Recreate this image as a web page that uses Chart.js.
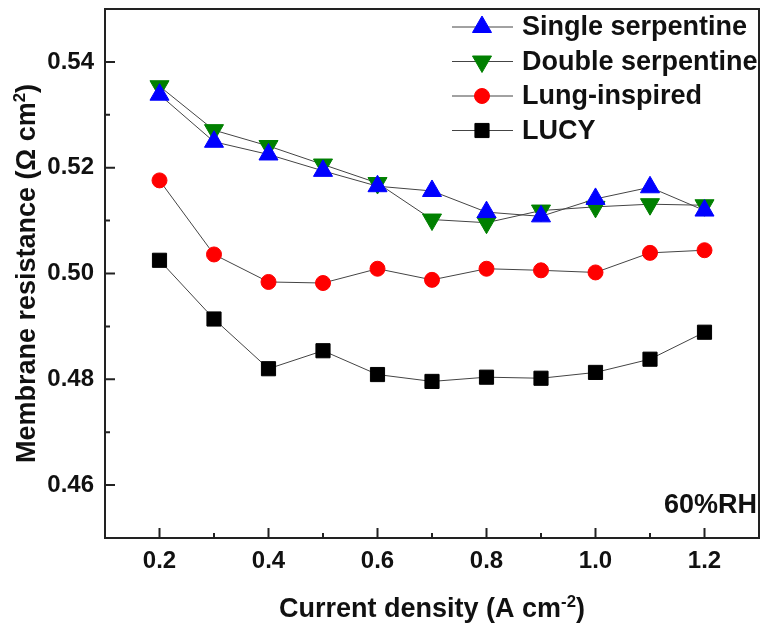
<!DOCTYPE html>
<html>
<head>
<meta charset="utf-8">
<script src="https://cdn.jsdelivr.net/npm/chart.js@4.4.0/dist/chart.umd.min.js"></script>
<style>
  html, body { margin: 0; padding: 0; background: #fff; overflow: hidden; }
  #wrap { position: relative; width: 762px; height: 625px; }
</style>
</head>
<body>
<div id="wrap"><canvas id="myChart"></canvas></div>
<script>
const currentDensity = [0.2, 0.3, 0.4, 0.5, 0.6, 0.7, 0.8, 0.9, 1.0, 1.1, 1.2];
const singleSerpentine = [0.5338, 0.5249, 0.5225, 0.5194, 0.5165, 0.5156, 0.5116, 0.5108, 0.5141, 0.5163, 0.5119];
const doubleSerpentine = [0.5354, 0.5271, 0.5241, 0.5206, 0.5171, 0.5102, 0.5096, 0.5119, 0.5126, 0.5131, 0.5129];
const lungInspired = [0.5176, 0.5036, 0.4984, 0.4982, 0.5009, 0.4988, 0.5009, 0.5006, 0.5002, 0.5039, 0.5044];
const lucy = [0.5025, 0.4914, 0.4820, 0.4854, 0.4809, 0.4796, 0.4804, 0.4802, 0.4813, 0.4838, 0.4889];

const xTicks = [0.2, 0.4, 0.6, 0.8, 1.0, 1.2];
const xMinorTicks = [0.3, 0.5, 0.7, 0.9, 1.1];
const yTicks = [0.46, 0.48, 0.50, 0.52, 0.54];
const yMinorTicks = [0.47, 0.49, 0.51, 0.53];

const FONT = "'Liberation Sans', Arial, sans-serif";
const LINE = '#444';

function pts(values) {
  return values.map((v, i) => ({ x: currentDensity[i], y: v }));
}

function series(label, values, color, style, radius, rotation) {
  return {
    label: label,
    data: pts(values),
    borderColor: LINE,
    borderWidth: 1,
    pointStyle: style,
    pointRadius: radius,
    pointRotation: rotation,
    pointBackgroundColor: color,
    pointBorderColor: color,
    pointBorderWidth: 1,
    tension: 0
  };
}

// draws text pieces, some of them superscript
function drawRich(ctx, pieces, size) {
  let total = 0;
  pieces.forEach(p => {
    ctx.font = 'bold ' + (p.sup ? size * 0.62 : size) + 'px ' + FONT;
    p.w = ctx.measureText(p.t).width;
    total += p.w;
  });
  let x = -total / 2;
  pieces.forEach(p => {
    ctx.font = 'bold ' + (p.sup ? size * 0.62 : size) + 'px ' + FONT;
    ctx.fillText(p.t, x, p.sup ? -size * 0.38 : 0);
    x += p.w;
  });
}

function noPad(s) {
  s.paddingTop = 0;
  s.paddingBottom = 0;
  s.paddingLeft = 0;
  s.paddingRight = 0;
}

const decor = {
  id: 'decor',
  afterDraw(chart) {
    const ctx = chart.ctx;
    const a = chart.chartArea;
    const xs = chart.scales.x, ys = chart.scales.y;
    ctx.save();
    ctx.strokeStyle = '#222';
    ctx.lineWidth = 2;
    ctx.strokeRect(a.left, a.top, a.right - a.left, a.bottom - a.top);

    ctx.beginPath();
    xTicks.forEach(v => { const p = xs.getPixelForValue(v); ctx.moveTo(p, a.bottom); ctx.lineTo(p, a.bottom - 10); });
    xMinorTicks.forEach(v => { const p = xs.getPixelForValue(v); ctx.moveTo(p, a.bottom); ctx.lineTo(p, a.bottom - 5); });
    yTicks.forEach(v => { const p = ys.getPixelForValue(v); ctx.moveTo(a.left, p); ctx.lineTo(a.left + 10, p); });
    yMinorTicks.forEach(v => { const p = ys.getPixelForValue(v); ctx.moveTo(a.left, p); ctx.lineTo(a.left + 5, p); });
    ctx.stroke();

    // legend
    ctx.textBaseline = 'middle';
    ctx.textAlign = 'left';
    chart.data.datasets.forEach((ds, i) => {
      const y = 27 + i * 34.5;
      ctx.strokeStyle = LINE;
      ctx.lineWidth = 1;
      ctx.beginPath();
      ctx.moveTo(452, y);
      ctx.lineTo(513, y);
      ctx.stroke();
      ctx.fillStyle = ds.pointBackgroundColor;
      ctx.strokeStyle = ds.pointBorderColor;
      Chart.helpers.drawPoint(ctx, { pointStyle: ds.pointStyle, rotation: ds.pointRotation, radius: ds.pointRadius, borderWidth: 1 }, 482, y);
      ctx.fillStyle = '#111';
      ctx.font = 'bold 27px ' + FONT;
      ctx.fillText(ds.label, 522, y + 1);
    });

    // annotation
    ctx.textAlign = 'right';
    ctx.textBaseline = 'alphabetic';
    ctx.font = 'bold 27px ' + FONT;
    ctx.fillText('60%RH', 757, 513);

    // axis titles
    ctx.textAlign = 'left';
    ctx.save();
    ctx.translate((a.left + a.right) / 2, 617);
    drawRich(ctx, [{ t: 'Current density (A cm' }, { t: '-2', sup: true }, { t: ')' }], 27);
    ctx.restore();
    ctx.save();
    ctx.translate(35, (a.top + a.bottom) / 2);
    ctx.rotate(-Math.PI / 2);
    drawRich(ctx, [{ t: 'Membrane resistance (\u03A9 cm' }, { t: '2', sup: true }, { t: ')' }], 27);
    ctx.restore();
    ctx.restore();
  }
};

const ctx = document.getElementById('myChart');

new Chart(ctx, {
  type: 'line',
  data: {
    datasets: [
      series('Single serpentine', singleSerpentine, '#0000ff', 'triangle', 11, 0),
      series('Double serpentine', doubleSerpentine, '#008000', 'triangle', 11, 180),
      series('Lung-inspired', lungInspired, '#ff0000', 'circle', 7.5, 0),
      series('LUCY', lucy, '#000000', 'rect', 10, 0)
    ]
  },
  options: {
    responsive: true,
    maintainAspectRatio: false,
    animation: false,
    layout: { autoPadding: false, padding: { top: 9, right: 3, left: 0, bottom: 0 } },
    plugins: { legend: { display: false }, tooltip: { enabled: false } },
    scales: {
      x: {
        type: 'linear',
        min: 0.1,
        max: 1.3,
        grid: { display: false, drawTicks: false },
        border: { display: false },
        afterBuildTicks: s => { s.ticks = xTicks.map(v => ({ value: v })); },
        afterFit: s => { s.height = 87; noPad(s); },
        ticks: {
          padding: 9,
          color: '#111',
          font: { family: FONT, size: 24, weight: 'bold' },
          callback: v => v.toFixed(1)
        }
      },
      y: {
        min: 0.45,
        max: 0.55,
        grid: { display: false, drawTicks: false },
        border: { display: false },
        afterBuildTicks: s => { s.ticks = yTicks.map(v => ({ value: v })); },
        afterFit: s => { s.width = 105; noPad(s); },
        ticks: {
          padding: 11,
          color: '#111',
          font: { family: FONT, size: 24, weight: 'bold' },
          callback: v => v.toFixed(2)
        }
      }
    }
  },
  plugins: [decor]
});
</script>
</body>
</html>
